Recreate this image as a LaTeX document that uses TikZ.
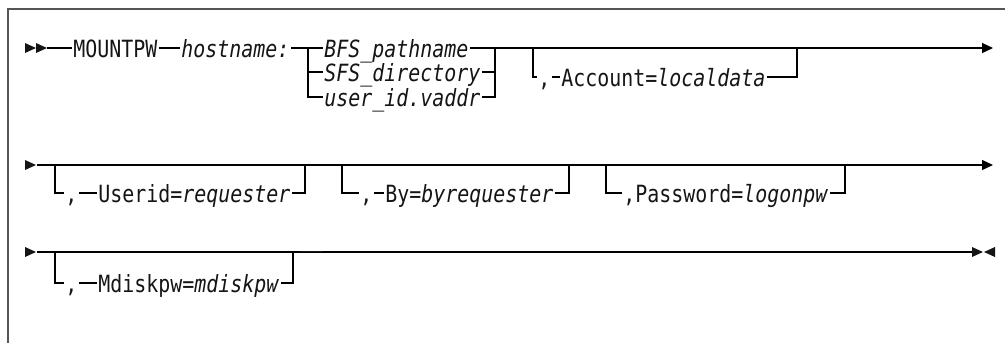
\documentclass[tikz,border=0pt]{standalone}
\usepackage{fontspec}
\setmonofont[FakeStretch=0.84]{DejaVu Sans Mono}
\usepackage{tikz}
\usetikzlibrary{arrows.meta}
\definecolor{ink}{HTML}{151515}
\definecolor{framegrey}{HTML}{555555}
\tikzset{
  kw/.style={font=\ttfamily\fontsize{13.5}{15}\selectfont,text=ink,anchor=west,
    inner xsep=0.6pt,inner ysep=0pt,text height=0.36cm,text depth=0pt},
  rail/.style={line width=0.7pt,line join=miter},
  tip/.style={-{Triangle[length=0.22cm,width=0.2cm]}}
}
\newcommand{\headtri}[1]{\fill[ink] (#1) ++(0,5) -- ++(11,-5) -- ++(-11,-5) -- cycle;}

\begin{document}
\begin{tikzpicture}[x=0.02cm,y=-0.02cm]
  \useasboundingbox (0,0) rectangle (1005,343);
  \draw[framegrey,line width=0.9pt] (1005,9) -- (8,9) -- (8,343);
  % row 1
  \headtri{25,48} \headtri{36,48}
  \coordinate (r1s) at (47,48);
  \coordinate (r1e) at (993,48);
  \node[kw] (mtpw) at (72,48) {MOUNTPW};
  \node[kw] (host) at (180,48) {\textit{hostname:}};
  \node[kw] (bfs) at (323,48) {\textit{BFS\_pathname}};
  \node[kw] (sfs) at (323,72) {\textit{SFS\_directory}};
  \node[kw] (uid) at (323,97) {\textit{user\_id.vaddr}};
  \node[kw] (acomma) at (537,77) {,};
  \node[kw] (acct) at (560,77) {Account=\textit{localdata}};
  \coordinate (j1) at (308,48); \coordinate (j2) at (495,48);
  \coordinate (j3) at (533,48); \coordinate (j4) at (797,48);
  \draw[rail] (r1s) -- (mtpw.west);
  \draw[rail] (mtpw.east) -- (host.west);
  \draw[rail] (host.east) -- (bfs.west);
  \draw[rail,tip] (bfs.east) -- (r1e);
  \draw[rail] (j1) |- (sfs.west) (j1) |- (uid.west);
  \draw[rail] (sfs.east) -| (j2) (uid.east) -| (j2);
  \draw[rail] (j3) |- (acomma.west);
  \draw[rail] (acomma.east) -- (acct.west);
  \draw[rail] (acct.east) -| (j4);
  % row 2
  \headtri{25,165}
  \coordinate (r2s) at (37,165);
  \coordinate (r2e) at (993,165);
  \draw[rail,tip] (r2s) -- (r2e);
  \node[kw] (ucomma) at (64,193) {,};
  \node[kw] (user) at (97,193) {Userid=\textit{requester}};
  \node[kw] (bcomma) at (359,193) {,};
  \node[kw] (by) at (384,193) {By=\textit{byrequester}};
  \node[kw] (pass) at (622,193) {,Password=\textit{logonpw}};
  \coordinate (j5) at (55,165); \coordinate (j6) at (305,165);
  \coordinate (j7) at (342,165); \coordinate (j8) at (569,165);
  \coordinate (j9) at (606,165); \coordinate (j10) at (845,165);
  \draw[rail] (j5) |- (ucomma.west);
  \draw[rail] (ucomma.east) -- (user.west);
  \draw[rail] (user.east) -| (j6);
  \draw[rail] (j7) |- (bcomma.west);
  \draw[rail] (bcomma.east) -- (by.west);
  \draw[rail] (by.east) -| (j8);
  \draw[rail] (j9) |- (pass.west);
  \draw[rail] (pass.east) -| (j10);
  % row 3
  \headtri{25,252}
  \coordinate (r3s) at (37,252);
  \coordinate (r3e) at (972,252);
  \draw[rail] (r3s) -- (r3e);
  \node[kw] (mcomma) at (64,283) {,};
  \node[kw] (mdisk) at (97,283) {Mdiskpw=\textit{mdiskpw}};
  \coordinate (j11) at (55,252); \coordinate (j12) at (293,252);
  \draw[rail] (j11) |- (mcomma.west);
  \draw[rail] (mcomma.east) -- (mdisk.west);
  \draw[rail] (mdisk.east) -| (j12);
  \draw[ink,line width=1.1pt] (300,251.5) -- (323,251.5);
  \headtri{972,252}
  \fill[ink] (995,247) -- (984,252) -- (995,257) -- cycle;
\end{tikzpicture}
\end{document}
